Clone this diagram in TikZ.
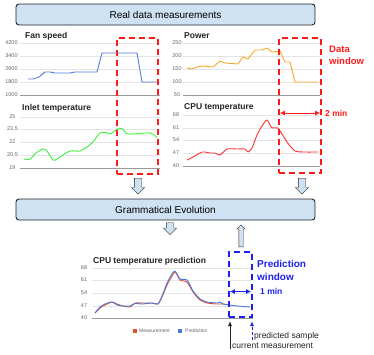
\documentclass[tikz,border=0pt]{standalone}
\usepackage{fontspec}
\setmainfont{Liberation Sans}
\usetikzlibrary{arrows.meta,positioning,shapes.arrows}
\definecolor{GEInk}{HTML}{222222}
\definecolor{GEBox}{HTML}{CFE2F3}
\definecolor{GERed}{HTML}{FF1A1A}
\definecolor{GEBlue}{HTML}{1F1FF0}
\definecolor{GEGrid}{HTML}{E4E4E4}
\definecolor{GEAxis}{HTML}{9A9A9A}
\definecolor{GETick}{HTML}{666666}
\definecolor{GEFan}{HTML}{4F7FD8}
\definecolor{GEPower}{HTML}{F9A72B}
\definecolor{GEInlet}{HTML}{3AF03A}
\definecolor{GECpu}{HTML}{FF3030}
\definecolor{GEMeas}{HTML}{E8492F}
\definecolor{GEPred}{HTML}{4A78D8}

\begin{document}
\begin{tikzpicture}[x=1pt,y=-1pt,
    stagebox/.style={draw=GEInk,fill=GEBox,rounded corners=3pt,line width=0.9pt,
      minimum width=299pt,minimum height=21pt,inner sep=0pt,
      font=\fontsize{10}{12}\selectfont},
    blockdown/.style={single arrow,draw=GEInk,fill=GEBox,shape border rotate=270,
      single arrow head extend=3pt,inner sep=3.5pt,anchor=tail},
    blockup/.style={single arrow,draw=GEInk,fill=GEBox,shape border rotate=90,
      single arrow head extend=2pt,inner sep=2pt,anchor=tail,minimum height=22pt},
    charttitle/.style={anchor=west,inner sep=0pt,text=GEInk,
      font=\fontsize{8.5}{10}\selectfont\bfseries},
    ticklbl/.style={inner sep=0pt,text=GETick,font=\fontsize{5.5}{6}\selectfont},
    gridline/.style={draw=GEGrid,line width=0.6pt},
    axisline/.style={draw=GEAxis,line width=0.8pt},
    series/.style={line width=0.9pt,line join=round},
    datawin/.style={draw=GERed,line width=1.3pt,dash pattern=on 6pt off 4pt,inner sep=0pt},
    predwin/.style={draw=GEBlue,line width=1.3pt,dash pattern=on 6pt off 4pt,inner sep=0pt},
    notetext/.style={anchor=north west,inner sep=0pt,align=left,
      font=\fontsize{9.5}{12.5}\selectfont\bfseries},
    mintext/.style={anchor=west,inner sep=0pt,font=\fontsize{8.5}{10}\selectfont\bfseries},
    pointtext/.style={anchor=west,inner sep=0pt,text=GEInk,font=\fontsize{8.5}{10}\selectfont}
  ]
  \useasboundingbox (0,0) rectangle (374,354);

  % stages
  \node[stagebox] (realdata) at (165.5,14.5) {Real data measurements};
  \node[stagebox] (gramevo) at (165.5,209.5) {Grammatical Evolution};

  % fan speed
  \node[charttitle] (fantitle) at (25,36) {Fan speed};
  \foreach \y/\v in {43/4200,56/3400,69/2600,82/1800,95/1000} {
    \draw[gridline] (20,\y) -- (160,\y);
    \node[ticklbl] at (11.5,\y) {\v};
  }
  \draw[axisline] (20,95) -- (160,95);
  \draw[series,GEFan] (28,79) -- (33,79) -- (39,77) -- (45,72) -- (50,72) -- (55,73)
    -- (70,73) -- (75,72) -- (97,72) -- (102,53) -- (137,53) -- (142,82) -- (159,82);

  % power
  \node[charttitle] (powtitle) at (184,36) {Power};
  \foreach \y/\v in {43/250,56/200,69/150,82/100,95/50} {
    \draw[gridline] (183,\y) -- (320,\y);
    \node[ticklbl] at (177,\y) {\v};
  }
  \draw[axisline] (183,95) -- (320,95);
  \draw[series,GEPower] (187,68) -- (192,69) -- (197,67) -- (202,66) -- (213,67)
    -- (220,61) -- (225,63) -- (238,64) -- (243,57) -- (248,59) -- (255,50) -- (262,50)
    -- (267,48) -- (272,52) -- (280,51) -- (285,62) -- (290,62) -- (295,82) -- (318,82);

  % inlet temperature
  \node[charttitle] (inlettitle) at (22,108) {Inlet temperature};
  \foreach \y/\v in {117/25,129/{23,5},142/22,155/{20,5},168/19} {
    \draw[gridline] (20,\y) -- (160,\y);
    \node[ticklbl] at (12.5,\y) {\v};
  }
  \draw[axisline] (20,168) -- (160,168);
  \draw[series,GEInlet] plot[smooth,tension=0.5] coordinates {(24,159) (30,159)
    (36,153) (43,149) (47,151) (53,160) (57,159) (63,155) (70,151) (80,151) (87,147)
    (93,142) (100,133) (107,133) (110,134) (118,129) (123,129) (128,134) (150,133)
    (157,138)};

  % cpu temperature
  \node[charttitle] (cputitle) at (184,107) {CPU temperature};
  \foreach \y/\v in {115/68,128/61,140/54,153/47,166/40} {
    \draw[gridline] (183,\y) -- (320,\y);
    \node[ticklbl] at (176,\y) {\v};
  }
  \draw[axisline] (183,166) -- (320,166);
  \draw[series,GECpu] plot[smooth,tension=0.4] coordinates {(187,160) (193,157)
    (202,152) (205,152) (210,153) (215,153) (220,155) (227,149) (237,149) (245,149)
    (248,152) (252,148) (257,135) (262,126) (267,120) (272,128) (278,128) (287,142)
    (295,151) (305,152) (318,152)};

  % data windows
  \node[datawin,minimum width=41pt,minimum height=136pt] (winL) at (137.5,106) {};
  \node[datawin,minimum width=42pt,minimum height=135pt] (winR) at (300,105.5) {};
  \node[notetext,text=GERed] (datalbl) at (329,45.5) {Data\\window};
  \node[mintext,text=GERed] (twomin) at (325,113) {2 min};
  \draw[GERed,line width=1pt,{Latex[length=5pt,width=5pt]}-{Latex[length=5pt,width=5pt]},
    shorten <=1.5pt,shorten >=1.5pt] (winR.west |- twomin) -- (winR.east |- twomin);

  % flow arrows
  \node[blockdown,minimum height=16pt] (downL) at (138,178) {};
  \node[blockdown,minimum height=16pt] (downR) at (302,178) {};
  \node[blockdown,minimum height=12pt] (downGE) at (170,222.5) {};
  \node[blockup] (upGE) at (241,247) {};

  % cpu temperature prediction
  \node[charttitle] (predtitle) at (93,261) {CPU temperature prediction};
  \foreach \y/\v in {268/68,280/61,293/54,306/47,318/40} {
    \draw[gridline] (92,\y) -- (253,\y);
    \node[ticklbl] at (84,\y) {\v};
  }
  \draw[axisline] (92,318) -- (253,318);
  \draw[series,GEMeas] plot[smooth,tension=0.4] coordinates {(95,313) (100,308)
    (105,305) (112,302) (117,304) (123,306) (130,307) (135,303) (142,303) (152,303)
    (158,304) (162,297) (168,283) (175,272) (180,280) (187,282) (193,292) (200,300)
    (207,303) (217,304) (223,304) (229,305)};
  \draw[series,GEPred] plot[smooth,tension=0.4] coordinates {(95,313) (100,307)
    (105,304) (112,302) (117,305) (123,306) (130,306) (135,303.5) (142,304) (152,303)
    (158,304) (162,296) (168,281) (174.5,271) (180,279) (187,280) (193,291) (200,299)
    (207,302) (217,303) (220,302) (223,304) (229,305) (237,306) (250,307)};
  \fill[GEMeas] (133,329) rectangle (137,333);
  \node[ticklbl,anchor=west,font=\fontsize{5}{6}\selectfont] (measlbl) at (139,331) {Measurement};
  \fill[GEPred] (178,329) rectangle (182,333);
  \node[ticklbl,anchor=west,font=\fontsize{5}{6}\selectfont] (predkey) at (185,331) {Prediction};

  % prediction window
  \node[predwin,minimum width=23pt,minimum height=65pt] (winP) at (240.5,284.5) {};
  \node[notetext,text=GEBlue,font=\fontsize{10}{12.5}\selectfont\bfseries] (predlbl2)
    at (257,260.5) {Prediction\\window};
  \node[mintext,text=GEBlue] (onemin) at (260,291.5) {1 min};
  \draw[GEBlue,line width=1pt,{Latex[length=5pt,width=5pt]}-{Latex[length=5pt,width=5pt]},
    shorten <=1.5pt,shorten >=1.5pt] (winP.west |- onemin) -- (winP.east |- onemin);

  % samples
  \coordinate (curpt) at (230,321);
  \coordinate (nextpt) at (252,321);
  \node[pointtext] (predlbl) at (254,336) {predicted sample};
  \node[pointtext] (curlbl) at (232,346) {current measurement};
  \draw[GEInk,line width=0.8pt,-{Latex[length=5pt,width=4pt]}]
    (curpt |- curlbl.south) -- (curpt);
  \draw[GEBlue,line width=1pt,dash pattern=on 3pt off 2pt,-{Latex[length=5pt,width=4pt]}]
    (nextpt |- predlbl.south) -- (nextpt);
\end{tikzpicture}
\end{document}
